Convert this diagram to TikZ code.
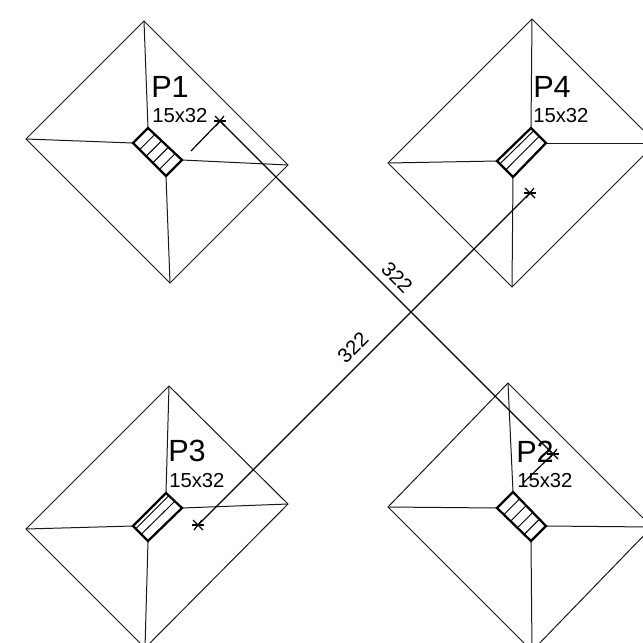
\documentclass[tikz,border=0pt]{standalone}
\usepackage{fontspec}
\setmainfont{Liberation Sans}
\newcommand{\dimstar}[1]{%
  \draw[thinline] ($(#1)+(-6,0)$) -- ($(#1)+(6,0)$);
  \draw[thinline] ($(#1)+(-5,-5)$) -- ($(#1)+(5,5)$);
  \draw[thinline] ($(#1)+(-4,5)$) -- ($(#1)+(4,-5)$);}
\usetikzlibrary{calc}
\tikzset{
  thinline/.style={draw=black,line width=0.9pt},
  colbox/.style={draw=black,line width=1.7pt,line join=miter},
  hatchline/.style={draw=black,line width=0.7pt},
  ridge/.style={draw=black!90,line width=0.75pt},
  bigname/.style={anchor=base west,inner sep=0pt,font=\fontsize{23}{23}\selectfont},
  sizelabel/.style={anchor=base west,inner sep=0pt,font=\fontsize{15.2}{15.2}\selectfont},
  dimlabel/.style={inner sep=0pt,font=\fontsize{15.2}{15.2}\selectfont}
}
\begin{document}
\begin{tikzpicture}[x=0.75pt,y=-0.75pt]
\useasboundingbox (0,0) rectangle (643,643);
\fill[white] (0,0) rectangle (643,643);
\clip (0,0) rectangle (643,643);

% P1
\coordinate (a1t) at (144,21); \coordinate (a1r) at (288,165); \coordinate (a1b) at (170,283); \coordinate (a1l) at (26,139);
\coordinate (c1t) at (148,128); \coordinate (c1r) at (182,160); \coordinate (c1b) at (166,176); \coordinate (c1l) at (133,143);
\draw[ridge] (a1t) -- (a1r) -- (a1b) -- (a1l) -- cycle;
\draw[ridge] (a1t) -- (c1t); \draw[ridge] (a1r) -- (c1r); \draw[ridge] (a1b) -- (c1b); \draw[ridge] (a1l) -- (c1l);
\foreach \f in {0.2,0.4,0.6,0.8}{\draw[hatchline] ($(c1l)!\f!(c1b)$) -- ($(c1t)!\f!(c1r)$);}
\draw[colbox] (c1t) -- (c1r) -- (c1b) -- (c1l) -- cycle;

% P4
\coordinate (a4t) at (532,19); \coordinate (a4r) at (656,143); \coordinate (a4b) at (512,287); \coordinate (a4l) at (388,163);
\coordinate (c4t) at (531,128); \coordinate (c4r) at (546,143); \coordinate (c4b) at (513,177); \coordinate (c4l) at (497,161);
\draw[ridge] (a4t) -- (a4r) -- (a4b) -- (a4l) -- cycle;
\draw[ridge] (a4t) -- (c4t); \draw[ridge] (a4r) -- (c4r); \draw[ridge] (a4b) -- (c4b); \draw[ridge] (a4l) -- (c4l);
\foreach \f in {0.18,0.55}{\draw[hatchline] ($(c4l)!\f!(c4b)$) -- ($(c4t)!\f!(c4r)$);}
\draw[colbox] (c4t) -- (c4r) -- (c4b) -- (c4l) -- cycle;

% P3
\coordinate (a3t) at (169,386); \coordinate (a3r) at (288,504); \coordinate (a3b) at (145,648); \coordinate (a3l) at (26,529);
\coordinate (c3t) at (166,493); \coordinate (c3r) at (182,508); \coordinate (c3b) at (148,541); \coordinate (c3l) at (133,526);
\draw[ridge] (a3t) -- (a3r) -- (a3b) -- (a3l) -- cycle;
\draw[ridge] (a3t) -- (c3t); \draw[ridge] (a3r) -- (c3r); \draw[ridge] (a3b) -- (c3b); \draw[ridge] (a3l) -- (c3l);
\foreach \f in {0.18,0.55}{\draw[hatchline] ($(c3l)!\f!(c3b)$) -- ($(c3t)!\f!(c3r)$);}
\draw[colbox] (c3t) -- (c3r) -- (c3b) -- (c3l) -- cycle;

% P2
\coordinate (a2t) at (508,383); \coordinate (a2r) at (652,527); \coordinate (a2b) at (532,651); \coordinate (a2l) at (388,507);
\coordinate (c2t) at (513,492); \coordinate (c2r) at (546,526); \coordinate (c2b) at (531,541); \coordinate (c2l) at (497,508);
\draw[ridge] (a2t) -- (a2r) -- (a2b) -- (a2l) -- cycle;
\draw[ridge] (a2t) -- (c2t); \draw[ridge] (a2r) -- (c2r); \draw[ridge] (a2b) -- (c2b); \draw[ridge] (a2l) -- (c2l);
\foreach \f in {0.2,0.4,0.6,0.8}{\draw[hatchline] ($(c2l)!\f!(c2b)$) -- ($(c2t)!\f!(c2r)$);}
\draw[colbox] (c2t) -- (c2r) -- (c2b) -- (c2l) -- cycle;

% dimension lines
\coordinate (s1) at (220,121); \coordinate (s1e) at (191,151);
\coordinate (s2) at (553,454); \coordinate (s2e) at (523,483);
\coordinate (s3) at (198,525); \coordinate (s4) at (530,193);
\draw[thinline] (s1e) -- (s1) -- (s2) -- (s2e);
\draw[thinline] (s3) -- (s4);
\dimstar{s1}\dimstar{s2}\dimstar{s3}\dimstar{s4}

% labels
\node[bigname] (p1) at (151,97) {P1};
\node[sizelabel] (d1) at (152,122) {15x32};
\node[bigname] (p4) at (533,97) {P4};
\node[sizelabel] (d4) at (533,122) {15x32};
\node[bigname] (p3) at (168,461) {P3};
\node[sizelabel] (d3) at (169,487) {15x32};
\node[bigname] (p2) at (516,462) {P2};
\node[sizelabel] (d2) at (517,487) {15x32};
\node[dimlabel,rotate=-45] (l1) at (397,278) {322};
\node[dimlabel,rotate=45] (l2) at (353,348) {322};
\end{tikzpicture}
\end{document}
